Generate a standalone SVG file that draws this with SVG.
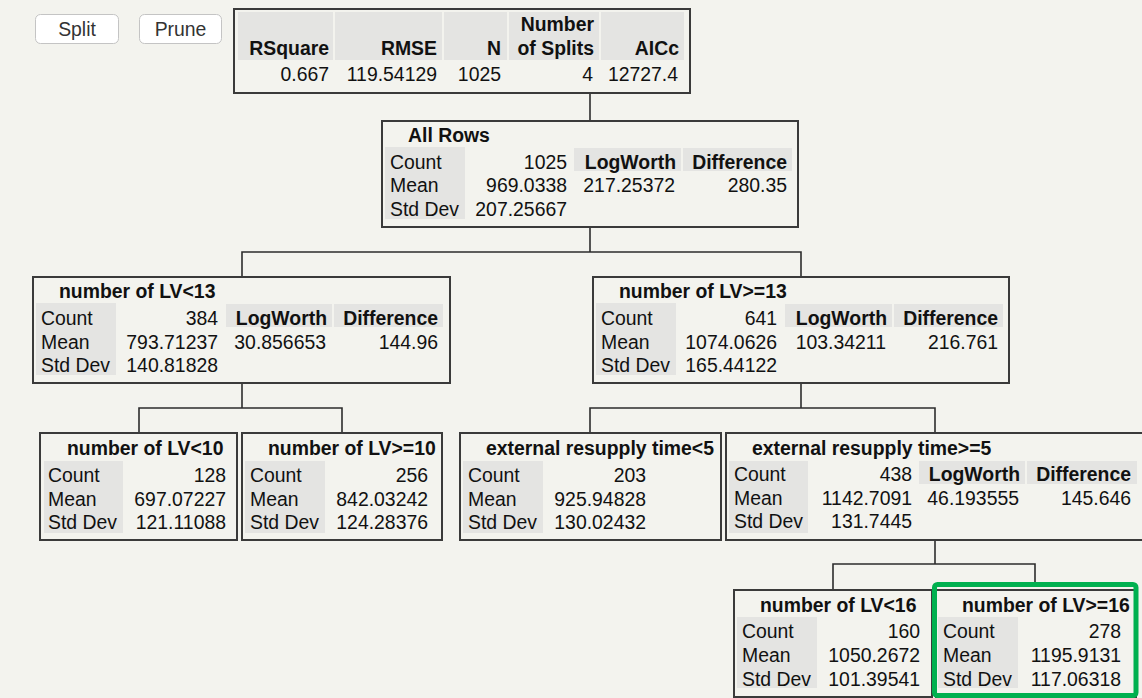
<svg xmlns="http://www.w3.org/2000/svg" width="1142" height="698" viewBox="0 0 1142 698">
<style>
text{font-family:"Liberation Sans",Arial,Helvetica,sans-serif;font-size:19.4px;fill:#111111}
.b{font-weight:bold}
.e{text-anchor:end}
.m{text-anchor:middle}
.box{fill:#f3f3ee;stroke:#3a3a3a;stroke-width:2}
.cell{fill:#e4e4e2}
.btn{fill:#ffffff;stroke:#c4c4c4;stroke-width:1}
.btnt{fill:#333333}
.conn{fill:none;stroke:#2c2c2c;stroke-width:1.6}
.sel{fill:none;stroke:#00b04f;stroke-width:5}
</style>
<rect x="0" y="0" width="1142" height="698" fill="#f3f3ee"/>

<g id="buttons">
<rect class="btn" x="35.5" y="14.5" width="83" height="29" rx="5"/>
<text class="m btnt" x="77" y="36">Split</text>
<rect class="btn" x="139.5" y="14.5" width="82" height="29" rx="5"/>
<text class="m btnt" x="180.5" y="36">Prune</text>
</g>

<g id="connectors">
<path class="conn" d="M590,94 V120"/>
<path class="conn" d="M590,227 V252"/>
<path class="conn" d="M242,276 V252 H801 V276"/>
<path class="conn" d="M242,384 V408"/>
<path class="conn" d="M139,432 V408 H342 V432"/>
<path class="conn" d="M801,384 V408"/>
<path class="conn" d="M590,432 V408 H935 V432"/>
<path class="conn" d="M935,541 V564"/>
<path class="conn" d="M833,589 V564 H1035 V582"/>
</g>

<g id="summary">
<rect class="box" x="234" y="9" width="456" height="84"/>
<rect class="cell" x="238" y="12" width="95" height="48"/>
<rect class="cell" x="335" y="12" width="107" height="48"/>
<rect class="cell" x="444" y="12" width="63" height="48"/>
<rect class="cell" x="509" y="12" width="90" height="48"/>
<rect class="cell" x="601" y="12" width="83" height="48"/>
<text class="b e" x="329" y="55">RSquare</text>
<text class="b e" x="437" y="55">RMSE</text>
<text class="b e" x="501" y="55">N</text>
<text class="b e" x="594" y="31">Number</text>
<text class="b e" x="594" y="55">of Splits</text>
<text class="b e" x="679" y="55">AICc</text>
<text class="e" x="329" y="81">0.667</text>
<text class="e" x="437" y="81">119.54129</text>
<text class="e" x="501" y="81">1025</text>
<text class="e" x="593" y="81">4</text>
<text class="e" x="678" y="81">12727.4</text>
</g>

<g id="node-all-rows">
<rect class="box" x="382" y="121" width="416" height="106"/>
<text class="b" x="408" y="142">All Rows</text>
<rect class="cell" x="385" y="147" width="80" height="72"/>
<text x="390" y="169">Count</text>
<text x="390" y="192">Mean</text>
<text x="390" y="216">Std Dev</text>
<text class="e" x="567" y="169">1025</text>
<text class="e" x="567" y="192">969.0338</text>
<text class="e" x="567" y="216">207.25667</text>
<rect class="cell" x="574" y="148" width="107" height="23"/>
<rect class="cell" x="683" y="148" width="109" height="23"/>
<text class="b e" x="676" y="169">LogWorth</text>
<text class="b e" x="787" y="169">Difference</text>
<text class="e" x="675" y="192">217.25372</text>
<text class="e" x="787" y="192">280.35</text>
</g>

<g id="node-lv-lt-13">
<rect class="box" x="33" y="277" width="417" height="106"/>
<text class="b" x="59" y="298">number of LV&lt;13</text>
<rect class="cell" x="36" y="303" width="80" height="72"/>
<text x="41" y="325">Count</text>
<text x="41" y="349">Mean</text>
<text x="41" y="372">Std Dev</text>
<text class="e" x="218" y="325">384</text>
<text class="e" x="218" y="349">793.71237</text>
<text class="e" x="218" y="372">140.81828</text>
<rect class="cell" x="226" y="304" width="106" height="23"/>
<rect class="cell" x="334" y="304" width="109" height="23"/>
<text class="b e" x="327" y="325">LogWorth</text>
<text class="b e" x="438" y="325">Difference</text>
<text class="e" x="326" y="349">30.856653</text>
<text class="e" x="438" y="349">144.96</text>
</g>

<g id="node-lv-ge-13">
<rect class="box" x="593" y="277" width="416" height="106"/>
<text class="b" x="619" y="298">number of LV&gt;=13</text>
<rect class="cell" x="596" y="303" width="80" height="72"/>
<text x="601" y="325">Count</text>
<text x="601" y="349">Mean</text>
<text x="601" y="372">Std Dev</text>
<text class="e" x="777" y="325">641</text>
<text class="e" x="777" y="349">1074.0626</text>
<text class="e" x="777" y="372">165.44122</text>
<rect class="cell" x="785" y="304" width="107" height="23"/>
<rect class="cell" x="894" y="304" width="109" height="23"/>
<text class="b e" x="887" y="325">LogWorth</text>
<text class="b e" x="998" y="325">Difference</text>
<text class="e" x="886" y="349">103.34211</text>
<text class="e" x="998" y="349">216.761</text>
</g>

<g id="node-lv-lt-10">
<rect class="box" x="40" y="433" width="197" height="107"/>
<text class="b" x="67" y="455">number of LV&lt;10</text>
<rect class="cell" x="44" y="461" width="79" height="72"/>
<text x="48" y="482">Count</text>
<text x="48" y="506">Mean</text>
<text x="48" y="529">Std Dev</text>
<text class="e" x="226" y="482">128</text>
<text class="e" x="226" y="506">697.07227</text>
<text class="e" x="226" y="529">121.11088</text>
</g>

<g id="node-lv-ge-10">
<rect class="box" x="242" y="433" width="200" height="107"/>
<text class="b" x="268" y="455">number of LV&gt;=10</text>
<rect class="cell" x="245" y="461" width="80" height="72"/>
<text x="250" y="482">Count</text>
<text x="250" y="506">Mean</text>
<text x="250" y="529">Std Dev</text>
<text class="e" x="428" y="482">256</text>
<text class="e" x="428" y="506">842.03242</text>
<text class="e" x="428" y="529">124.28376</text>
</g>

<g id="node-ext-lt-5">
<rect class="box" x="460" y="433" width="261" height="107"/>
<text class="b" x="486" y="455">external resupply time&lt;5</text>
<rect class="cell" x="463" y="461" width="80" height="72"/>
<text x="468" y="482">Count</text>
<text x="468" y="506">Mean</text>
<text x="468" y="529">Std Dev</text>
<text class="e" x="646" y="482">203</text>
<text class="e" x="646" y="506">925.94828</text>
<text class="e" x="646" y="529">130.02432</text>
</g>

<g id="node-ext-ge-5">
<rect class="box" x="726" y="433" width="418" height="107"/>
<text class="b" x="752" y="455">external resupply time&gt;=5</text>
<rect class="cell" x="729" y="461" width="79" height="72"/>
<text x="734" y="481">Count</text>
<text x="734" y="505">Mean</text>
<text x="734" y="528">Std Dev</text>
<text class="e" x="912" y="481">438</text>
<text class="e" x="912" y="505">1142.7091</text>
<text class="e" x="912" y="528">131.7445</text>
<rect class="cell" x="919" y="461" width="106" height="23"/>
<rect class="cell" x="1027" y="461" width="110" height="23"/>
<text class="b e" x="1020" y="481">LogWorth</text>
<text class="b e" x="1131" y="481">Difference</text>
<text class="e" x="1019" y="505">46.193555</text>
<text class="e" x="1131" y="505">145.646</text>
</g>

<g id="node-lv-lt-16">
<rect class="box" x="734" y="590" width="198" height="107"/>
<text class="b" x="760" y="612">number of LV&lt;16</text>
<rect class="cell" x="737" y="617" width="80" height="71"/>
<text x="742" y="638">Count</text>
<text x="742" y="662">Mean</text>
<text x="742" y="686">Std Dev</text>
<text class="e" x="920" y="638">160</text>
<text class="e" x="920" y="662">1050.2672</text>
<text class="e" x="920" y="686">101.39541</text>
</g>

<g id="node-lv-ge-16">
<rect class="box" x="936" y="590" width="200" height="107"/>
<text class="b" x="962" y="612">number of LV&gt;=16</text>
<rect class="cell" x="938" y="617" width="80" height="71"/>
<text x="943" y="638">Count</text>
<text x="943" y="662">Mean</text>
<text x="943" y="686">Std Dev</text>
<text class="e" x="1121" y="638">278</text>
<text class="e" x="1121" y="662">1195.9131</text>
<text class="e" x="1121" y="686">117.06318</text>
<rect class="sel" x="934.5" y="584.5" width="201.5" height="111" rx="3"/>
</g>
</svg>
